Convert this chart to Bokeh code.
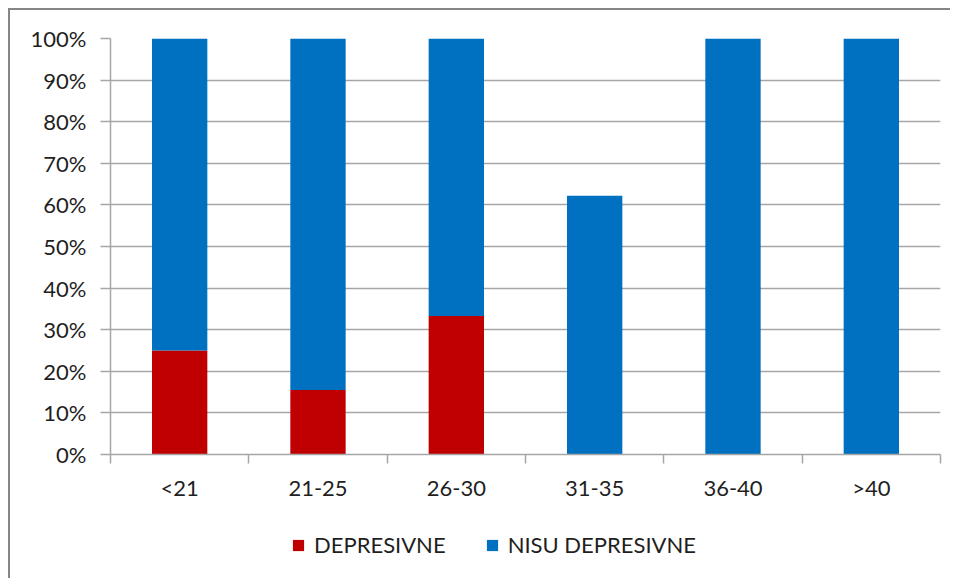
from bokeh.plotting import figure
from bokeh.layouts import column
from bokeh.models import ColumnDataSource, FixedTicker, NumeralTickFormatter, Range1d, Legend, LegendItem
from bokeh.embed import file_html
from bokeh.resources import INLINE

categories = ["<21", "21-25", "26-30", "31-35", "36-40", ">40"]
depresivne = [0.25, 0.155, 0.333, 0.0, 0.0, 0.0]
nisu_depresivne = [0.75, 0.845, 0.667, 0.622, 1.0, 1.0]
series_names = ["DEPRESIVNE", "NISU DEPRESIVNE"]
colors = ["#C00000", "#0070C0"]
y_ticks = [0.0, 0.1, 0.2, 0.3, 0.4, 0.5, 0.6, 0.7, 0.8, 0.9, 1.0]

FONT = "Lato"
TXT = "#1f1f1f"
GRID = "#A6A6A6"

xs = [i + 0.5 for i in range(len(categories))]
src = ColumnDataSource(dict(x=xs, dep=depresivne, nisu=nisu_depresivne))

p = figure(frame_width=830, frame_height=416, output_backend="svg", toolbar_location=None,
           x_range=Range1d(0, len(categories)), y_range=Range1d(0, 1),
           min_border_left=100, min_border_top=28, min_border_right=10, min_border_bottom=60)
p.outline_line_color = None
p.background_fill_color = "white"
p.border_fill_color = "white"

rs = p.vbar_stack(["dep", "nisu"], x="x", width=0.4, source=src, color=colors, line_color=None)

# y axis
p.yaxis.ticker = FixedTicker(ticks=y_ticks)
p.yaxis.formatter = NumeralTickFormatter(format="0%")
p.yaxis.major_tick_out = 10
p.yaxis.major_tick_in = 0
p.yaxis.minor_tick_line_color = None
p.yaxis.major_label_standoff = 14
p.yaxis.axis_line_color = GRID
p.yaxis.major_tick_line_color = GRID
p.yaxis.axis_line_width = 1.5
p.yaxis.major_tick_line_width = 1.5
p.yaxis.major_label_text_font = FONT
p.yaxis.major_label_text_font_size = "22px"
p.yaxis.major_label_text_color = TXT

# x axis: labels at centres, tick marks at category boundaries
p.xaxis.ticker = FixedTicker(ticks=xs, minor_ticks=list(range(len(categories) + 1)))
p.xaxis.major_label_overrides = {x: c for x, c in zip(xs, categories)}
p.xaxis.major_tick_line_color = None
p.xaxis.major_tick_out = 0
p.xaxis.major_tick_in = 0
p.xaxis.minor_tick_out = 9
p.xaxis.minor_tick_in = 0
p.xaxis.minor_tick_line_color = GRID
p.xaxis.minor_tick_line_width = 1.5
p.xaxis.axis_line_color = GRID
p.xaxis.axis_line_width = 1.5
p.xaxis.major_label_standoff = 10
p.xaxis.major_label_text_font = FONT
p.xaxis.major_label_text_font_size = "22px"
p.xaxis.major_label_text_color = TXT

p.xgrid.grid_line_color = None
p.ygrid.ticker = FixedTicker(ticks=y_ticks)
p.ygrid.grid_line_color = GRID
p.ygrid.grid_line_width = 1.5

# legend strip below the chart (its own small figure, so the legend is never clipped)
lg = figure(width=940, height=64, output_backend="svg", toolbar_location=None,
            x_range=Range1d(0, 1), y_range=Range1d(0, 1),
            x_axis_type=None, y_axis_type=None, min_border=0)
lg.outline_line_color = None
lg.xgrid.grid_line_color = None
lg.ygrid.grid_line_color = None
lg.background_fill_color = "white"
lg.border_fill_color = "white"
# zero-area swatch renderers: they only supply the legend's colour squares
swatch_src = ColumnDataSource(dict(l=[0], r=[0], t=[0], b=[0]))
swatches = [lg.quad(left="l", right="r", top="t", bottom="b", source=swatch_src,
                    fill_color=c, line_color=None) for c in colors]

legend = Legend(items=[LegendItem(label=n, renderers=[r]) for n, r in zip(series_names, swatches)],
                orientation="horizontal", location=(181, 20))
legend.label_text_font = FONT
legend.label_text_font_size = "22px"
legend.label_text_color = TXT
legend.glyph_width = 14
legend.glyph_height = 14
legend.label_standoff = 9
legend.spacing = 39
legend.border_line_color = None
legend.background_fill_alpha = 0
legend.margin = 0
legend.padding = 0
lg.add_layout(legend, "center")

layout = column(p, lg, spacing=0)
layout.styles = {"margin-left": "8px", "margin-top": "8px",
                 "border-left": "2px solid #868686", "border-top": "2px solid #868686"}

open("out.html", "w").write(file_html(layout, INLINE))
